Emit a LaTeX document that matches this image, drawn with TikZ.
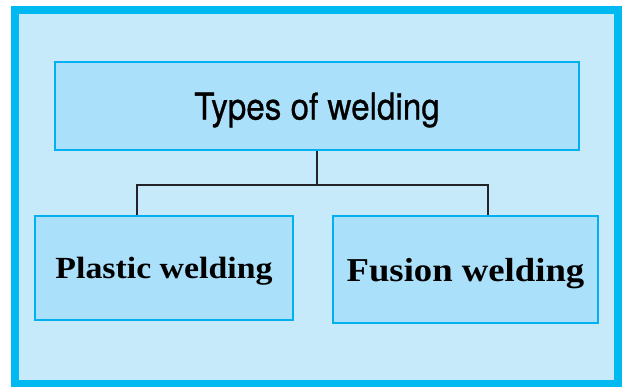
\documentclass[tikz,border=0pt]{standalone}
\usepackage{fontspec}
\newfontfamily\headfont[FakeStretch=0.9, FakeBold=0.8]{TeX Gyre Heros}
\newfontfamily\typefont[FakeStretch=1.1]{Liberation Serif}
\definecolor{frameblue}{RGB}{0,185,240}
\definecolor{paleblue}{RGB}{198,234,250}
\definecolor{boxblue}{RGB}{170,224,250}
\definecolor{edgeblue}{RGB}{0,176,240}
\definecolor{linegray}{RGB}{35,35,40}
\tikzset{
  typebox/.style={draw=edgeblue, fill=boxblue, line width=1.3pt,
    inner sep=0pt, text depth=0pt, align=center},
  connector/.style={draw=linegray, line width=1.1pt}
}
\begin{document}
\begin{tikzpicture}[x=0.02cm, y=-0.02cm]
\useasboundingbox (0,0) rectangle (625,386);

% Frame
\fill[white] (0,0) rectangle (625,386);
\draw[frameblue, fill=paleblue, line width=4.5pt] (15,10) rectangle (618,384);

% Boxes
\node[typebox, minimum width=10.48cm, minimum height=1.76cm]
  (types) at (317,106) {\headfont\fontsize{21}{25}\selectfont Types of welding};
\node[typebox, minimum width=5.16cm, minimum height=2.08cm]
  (plastic) at (164,268) {\typefont\bfseries\fontsize{17.5}{21}\selectfont Plastic welding};
\node[typebox, minimum width=5.30cm, minimum height=2.14cm]
  (fusion) at (465.5,269.5) {\typefont\bfseries\fontsize{19}{23}\selectfont Fusion welding};

% Connectors
\coordinate (barL) at (137,185);
\coordinate (barR) at (488,185);
\draw[connector] (types.south) -- (types.south |- barL);
\draw[connector] (barL |- plastic.north) -- (barL) -- (barR) -- (barR |- fusion.north);

\end{tikzpicture}
\end{document}
